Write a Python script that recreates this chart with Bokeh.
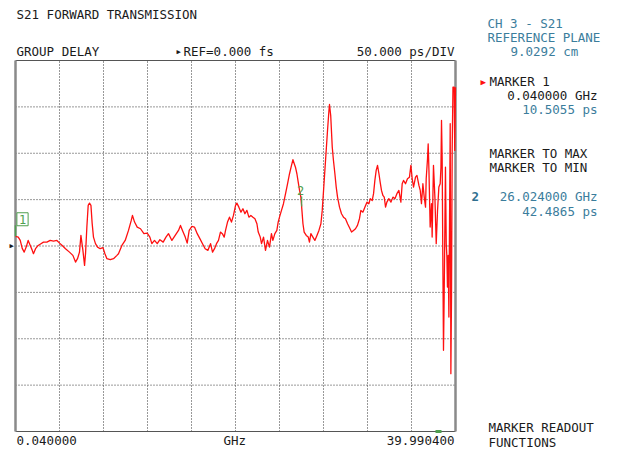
from bokeh.plotting import figure
from bokeh.models import Label, Range1d
from bokeh.embed import file_html
from bokeh.resources import INLINE

# ---- data (GHz, ps) ----
freq_ghz = [
    0.04, 0.29, 0.47, 0.65, 0.83, 1.01, 1.19, 1.38, 1.56, 1.67,
    1.86, 2.10, 2.35, 2.58, 2.89, 3.19, 3.49, 3.80, 4.04, 4.28,
    4.58, 4.94, 5.25, 5.49, 5.67, 5.85, 5.98, 6.16, 6.31, 6.40,
    6.52, 6.64, 6.76, 6.89, 7.00, 7.12, 7.30, 7.49, 7.73, 7.98,
    8.16, 8.34, 8.64, 8.94, 9.25,
    9.39, 9.70, 10.00, 10.30, 10.55, 10.66, 10.85, 11.09, 11.39, 11.70,
    12.00, 12.24, 12.42, 12.66, 12.91, 13.15, 13.45, 13.70, 13.93, 14.24,
    14.54, 14.84, 15.02, 15.20, 15.45, 15.63, 15.81, 16.06, 16.29, 16.54,
    16.78, 17.02, 17.26, 17.51, 17.75, 17.93, 18.11, 18.29, 18.47, 18.65,
    18.82, 18.99, 19.11, 19.29, 19.47, 19.65, 19.83, 20.02, 20.14, 20.32,
    20.51, 20.69, 20.87, 21.05, 21.23, 21.41, 21.60, 21.78, 21.96, 22.08,
    22.26, 22.38, 22.56, 22.74, 22.92, 23.10, 23.28, 23.41, 23.59, 23.77,
    23.89, 24.01, 24.19, 24.37, 24.56, 24.74, 24.92, 25.10, 25.23, 25.35,
    25.46, 25.59, 25.71, 25.83, 25.95, 26.02, 26.14, 26.25, 26.44, 26.62,
    26.73, 26.86, 27.04, 27.22, 27.41, 27.59, 27.77, 27.89, 28.01, 28.13,
    28.25, 28.37, 28.50, 28.55,
    28.66, 28.80, 28.91, 29.04, 29.16, 29.28, 29.46, 29.64, 29.82, 30.00,
    30.19, 30.37, 30.55, 30.73, 30.91, 31.09, 31.27, 31.40, 31.58, 31.76,
    31.95, 32.13, 32.25, 32.43, 32.55, 32.67, 32.79, 32.91, 33.04, 33.15,
    33.27, 33.40, 33.52, 33.64, 33.76, 33.94, 34.13, 34.31, 34.49, 34.67,
    34.85, 35.03, 35.15, 35.27, 35.45, 35.63, 35.81, 35.94, 36.06,
    36.18, 36.36, 36.49, 36.67, 36.79, 36.90, 37.03, 37.15, 37.27, 37.33,
    37.45, 37.51, 37.58, 37.69, 37.81, 37.87, 37.99, 38.12, 38.24, 38.36,
    38.48, 38.60, 38.67, 38.72, 38.78, 38.85, 38.90, 38.96, 39.03, 39.08,
    39.15, 39.21, 39.26, 39.33, 39.39, 39.45, 39.51, 39.57, 39.63, 39.69,
    39.76, 39.87, 39.92, 39.99,
]
delay_ps = [
    10.5, 9.6, 6.0, -2.6, -6.6, -1.2, 6.0, 0.6, -4.7, -8.3,
    -2.9, 0.6, 2.5, 4.2, 4.2, 6.0, 5.3, 6.0, 3.1, 0.6,
    -2.9, -6.6, -10.1, -17.3, -13.7, -6.6, 11.4, -4.7, -20.9, -8.0,
    20.4, 43.8, 46.2, 43.8, 24.4, 9.6, 2.5, -1.2, -2.9, -1.8,
    -8.3, -13.7, -14.8, -13.7, -10.1,
    -8.3, 0.6, 6.0, 16.8, 27.6, 33.0, 25.8, 20.4, 18.6, 13.3,
    13.9, 9.6, 2.5, 6.0, 2.5, 6.8, 4.2, 9.6, 13.3, 6.0,
    11.4, 16.8, 22.2, 16.8, 9.6, 3.1, 16.8, 21.1, 20.4, 13.3,
    7.9, 2.5, -2.9, -4.7, 2.5, -6.6, -2.9, 2.5, 6.0, 15.0,
    13.3, 9.6, 16.8, 25.8, 31.1, 25.8, 33.0, 43.8, 46.2, 41.9,
    36.5, 40.2, 34.8, 38.4, 31.1, 33.0, 31.1, 29.4, 24.0, 15.0,
    9.6, 2.5, 9.6, -4.7, 6.0, -1.2, 13.3, 6.0, 13.3, 16.8,
    25.8, 31.1, 38.4, 45.6, 56.4, 67.1, 77.9, 86.9, 93.0, 88.7,
    85.0, 77.9, 68.9, 59.9, 52.7, 42.5, 24.0, 15.0, 11.4, 9.6,
    4.2, 13.3, 9.6, 6.0, 11.4, 16.8, 24.0, 38.4, 59.9, 81.5,
    103.0, 124.6, 146.1, 152.6,
    140.7, 106.6, 92.2, 77.9, 63.5, 52.7, 41.9, 34.8, 31.1, 29.4,
    24.0, 19.7, 15.0, 16.8, 18.6, 22.2, 29.4, 38.4, 36.5, 41.9,
    47.3, 45.6, 51.0, 49.1, 56.4, 70.7, 81.5, 86.9, 77.9, 68.9,
    59.9, 54.5, 52.7, 41.9, 47.3, 51.0, 47.3, 52.7, 51.0, 56.4,
    59.9, 47.3, 67.1, 70.7, 67.1, 72.5, 74.2, 86.9, 72.5,
    63.5, 74.2, 76.1, 65.3, 59.9, 45.6, 67.1, 52.7, 41.9, 72.5,
    94.1, 110.2, 81.5, 20.4, 45.6, 9.6, 86.9, 52.7, 2.5, 38.4,
    63.5, 67.1, 85.0, 135.3, 94.1, -29.8, -112.5, -55.1, 25.8, 85.0,
    2.5, -12.0, -44.3, -10.1, -76.6, 27.6, 131.8, -137.6, -51.4, 103.0,
    171.2, 171.2, 103.0, 171.2,
]

start_ghz = 0.040000
stop_ghz = 39.990400
ref_ps = 0.0
scale_ps_div = 50.0
n_xdiv = 10
n_ydiv = 8
marker1_ghz, marker1_ps = 0.040000, 10.5055
marker2_ghz, marker2_ps = 26.024000, 42.4865

# ---- layout: the frame fills the canvas; graticule placed inside ----
W, H = 618, 456
GL, GR, GT, GB = 15, 455, 60, 431          # graticule edges in canvas px
gw, gh = GR - GL, GB - GT
ytop = ref_ps + scale_ps_div * n_ydiv / 2
ybot = ref_ps - scale_ps_div * n_ydiv / 2
xspan = stop_ghz - start_ghz
yspan = ytop - ybot

FONT = "DejaVu Sans Mono"
BLACK = "#1a1a1a"
TEAL = "#3b7d9c"
GREEN = "#4f9f4f"
RED = "#ff1010"

x_lo = start_ghz - GL / gw * xspan
x_hi = stop_ghz + (W - GR) / gw * xspan
y_hi = ytop + GT / gh * yspan
y_lo = ybot - (H - GB) / gh * yspan

p = figure(width=W, height=H, output_backend="svg", toolbar_location=None,
           x_range=Range1d(x_lo, x_hi), y_range=Range1d(y_lo, y_hi),
           x_axis_location=None, y_axis_location=None,
           min_border=0)
p.title.visible = False
p.grid.visible = False
p.outline_line_color = None
p.background_fill_color = "white"
p.border_fill_color = "white"

def X(px):
    return start_ghz + (px - GL) / gw * xspan

def Y(py):
    return ytop - (py - GT) / gh * yspan

ps_per_px = yspan / gh

# graticule: dotted division lines
xstep = xspan / n_xdiv
xt = [start_ghz + i * xstep for i in range(1, n_xdiv)]
yt = [ybot + j * scale_ps_div for j in range(1, n_ydiv)]
p.segment(x0=xt, y0=[ybot] * len(xt), x1=xt, y1=[ytop] * len(xt),
          line_color="#333333", line_dash="1 2", line_width=1)
p.segment(x0=[start_ghz] * len(yt), y0=yt, x1=[stop_ghz] * len(yt), y1=yt,
          line_color="#333333", line_dash="1 2", line_width=1)
# border
p.segment(x0=[start_ghz, start_ghz], y0=[ytop, ybot], x1=[stop_ghz, stop_ghz], y1=[ytop, ybot],
          line_color="#555555", line_width=1.2)
p.segment(x0=[start_ghz, stop_ghz], y0=[ybot, ybot], x1=[start_ghz, stop_ghz], y1=[ytop, ytop],
          line_color="#8a8a8a", line_width=2.5)

# trace
p.line(freq_ghz, delay_ps, line_color=RED, line_width=1.3, line_join="round")

def txt(px, py, s, color=BLACK, align="left", size="12.5px", style="normal"):
    p.add_layout(Label(x=X(px), y=Y(py), text=s, text_align=align,
                       text_baseline="middle", text_color=color,
                       text_font=FONT, text_font_size=size,
                       text_font_style=style))

# header
txt(16, 13.5, "S21 FORWARD TRANSMISSION")
txt(16, 51, "GROUP DELAY")
txt(176, 51, "\u25b6", size="7px")
txt(183, 51, "REF=0.000 fs")
txt(454, 51, "50.000 ps/DIV", align="right")

# right panel
txt(487, 22.5, "CH 3 - S21", TEAL)
txt(487, 36.5, "REFERENCE PLANE", TEAL)
txt(510, 51, "9.0292 cm", TEAL)
txt(480, 81, "\u25b6", RED, size="9px")
txt(489, 81, "MARKER 1")
txt(597, 95, "0.040000 GHz", align="right")
txt(597, 109, "10.5055 ps", TEAL, align="right")
txt(489, 153, "MARKER TO MAX")
txt(489, 167, "MARKER TO MIN")
txt(471, 196, "2", "#2f6f8f", style="bold")
txt(597, 196, "26.024000 GHz", TEAL, align="right")
txt(597, 211, "42.4865 ps", TEAL, align="right")
txt(488, 427, "MARKER READOUT")
txt(488, 442, "FUNCTIONS")

# bottom
txt(16, 440, "0.040000")
txt(223, 440, "GHz")
txt(454, 440, "39.990400", align="right")

# reference-line arrow at left of the graticule
p.add_layout(Label(x=X(9), y=ref_ps, text="\u25b6", text_align="left",
                   text_baseline="middle", text_color=BLACK,
                   text_font=FONT, text_font_size="7px"))

# markers
p.segment(x0=[marker1_ghz], y0=[marker1_ps], x1=[marker1_ghz],
          y1=[marker1_ps + 11 * ps_per_px], line_color=GREEN, line_width=1.5)
p.add_layout(Label(x=marker1_ghz, y=marker1_ps, x_offset=7, y_offset=17,
                   text="1", text_align="center", text_baseline="middle",
                   text_color=GREEN, text_font=FONT, text_font_size="12px",
                   border_line_color=GREEN, border_line_width=1,
                   background_fill_color="white", padding=2))
p.segment(x0=[marker2_ghz], y0=[marker2_ps], x1=[marker2_ghz],
          y1=[marker2_ps + 10 * ps_per_px], line_color=GREEN, line_width=1.2)
p.add_layout(Label(x=marker2_ghz, y=marker2_ps, x_offset=-1, y_offset=16,
                   text="2", text_align="center", text_baseline="middle",
                   text_color=GREEN, text_font=FONT, text_font_size="12px"))
p.segment(x0=[X(435)], y0=[ybot], x1=[X(441)], y1=[ybot],
          line_color=GREEN, line_width=3)

open("out.html", "w").write(file_html(p, INLINE))
